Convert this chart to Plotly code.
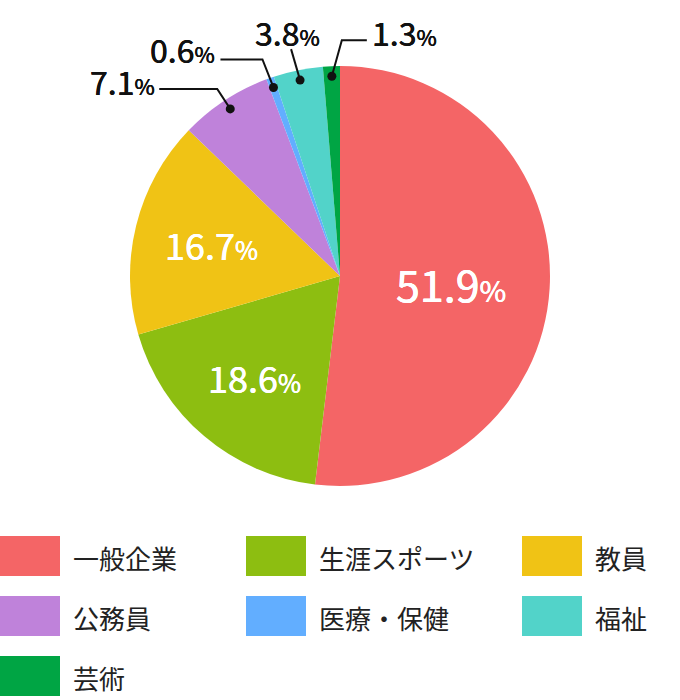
import math
import plotly.graph_objects as go

# ---- data ----
labels = ["一般企業", "生涯スポーツ", "教員", "公務員", "医療・保健", "福祉", "芸術"]
values = [51.9, 18.6, 16.7, 7.1, 0.6, 3.8, 1.3]
colors = ["#F46566", "#8DBE11", "#F0C315", "#BF82DA", "#62AEFF", "#52D3C9", "#00A544"]

W, H = 680, 700
FONT = "Noto Sans CJK JP"

# pie geometry (pixels)
CX, CY, R = 340, 276, 210


def px(x, y):
    return x / W, 1 - y / H


def thicken(c, d=0.3):
    return f"{d}px 0 0 {c}, -{d}px 0 0 {c}"


fig = go.Figure()
fig.add_trace(go.Pie(
    labels=labels, values=values, sort=False, direction="clockwise", rotation=0,
    marker=dict(colors=colors, line=dict(width=0)),
    textinfo="none", hoverinfo="label+percent", showlegend=False,
    domain=dict(x=[(CX - R) / W, (CX + R) / W], y=[1 - (CY + R) / H, 1 - (CY - R) / H]),
))

annotations = []
shapes = []

total = sum(values)
cum = 0.0
inside_style = {0: (0.53, 43, 29), "default": (0.63, 36, 25)}
outside_geom = {
    3: dict(elbow=(-13, -20), tail=-58, lab=(-2, -8), anchor="right"),
    4: dict(elbow=(-11, -28), tail=-42, lab=(-3, -10), anchor="right"),
    5: dict(elbow=(-9, -31), tail=0, lab=(-4, -17), anchor="center"),
    6: dict(elbow=(10, -36), tail=25, lab=(3, -8), anchor="left"),
}


def pct_text(v, ps):
    return f"{v}<span style='font-size:{ps}px'>%</span>"


for i, v in enumerate(values):
    mid = (cum + v / 2) / total * 2 * math.pi
    cum += v
    sx, sy = math.sin(mid), -math.cos(mid)
    if i in outside_geom:
        g = outside_geom[i]
        dx_, dy_ = CX + 0.952 * R * sx, CY + 0.952 * R * sy
        ex, ey = dx_ + g["elbow"][0], dy_ + g["elbow"][1]
        tx = ex + g["tail"]
        x0, y0 = px(dx_, dy_)
        x1, y1 = px(ex, ey)
        x2, y2 = px(tx, ey)
        shapes.append(dict(type="path", xref="paper", yref="paper",
                           path=f"M{x0},{y0} L{x1},{y1} L{x2},{y2}",
                           line=dict(color="#111", width=2)))
        r = 4.5
        a, b = px(dx_ - r, dy_ + r)
        c, d = px(dx_ + r, dy_ - r)
        shapes.append(dict(type="circle", xref="paper", yref="paper",
                           x0=a, y0=b, x1=c, y1=d,
                           fillcolor="#111", line=dict(width=0)))
        lx, ly = px(tx + g["lab"][0], ey + g["lab"][1])
        annotations.append(dict(
            x=lx, y=ly, xref="paper", yref="paper", showarrow=False,
            xanchor=g["anchor"], yanchor="middle",
            text=pct_text(v, 22),
            font=dict(family=FONT, size=32, color="#111", shadow=thicken("#111", 0.25)),
        ))
    else:
        rf, fs, ps = inside_style.get(i, inside_style["default"])
        lx, ly = px(CX + rf * R * sx, CY + rf * R * sy)
        annotations.append(dict(
            x=lx, y=ly, xref="paper", yref="paper", showarrow=False,
            xanchor="center", yanchor="middle",
            text=pct_text(v, ps),
            font=dict(family=FONT, size=fs, color="white", shadow=thicken("white", 0.3)),
        ))

# ---- custom legend ----
col_x = [0, 246, 522]
row_y0, row_step = 536, 60
sw_w, sw_h = 60, 40
for i, (lab, col) in enumerate(zip(labels, colors)):
    cx_ = col_x[i % 3]
    ry = row_y0 + (i // 3) * row_step
    a, b = px(cx_, ry)
    c, d = px(cx_ + sw_w, ry + sw_h)
    shapes.append(dict(type="rect", xref="paper", yref="paper",
                       x0=a, y0=d, x1=c, y1=b, fillcolor=col, line=dict(width=0)))
    tx, ty = px(cx_ + 71, ry + sw_h / 2 + 1)
    annotations.append(dict(
        x=tx, y=ty, xref="paper", yref="paper", showarrow=False,
        xanchor="left", yanchor="middle", text=lab,
        font=dict(family=FONT, size=26, color="#222"),
    ))

fig.update_layout(
    width=W, height=H, margin=dict(l=0, r=0, t=0, b=0),
    paper_bgcolor="white", plot_bgcolor="white",
    annotations=annotations, shapes=shapes,
    font=dict(family=FONT),
)
fig.write_html("out.html")
